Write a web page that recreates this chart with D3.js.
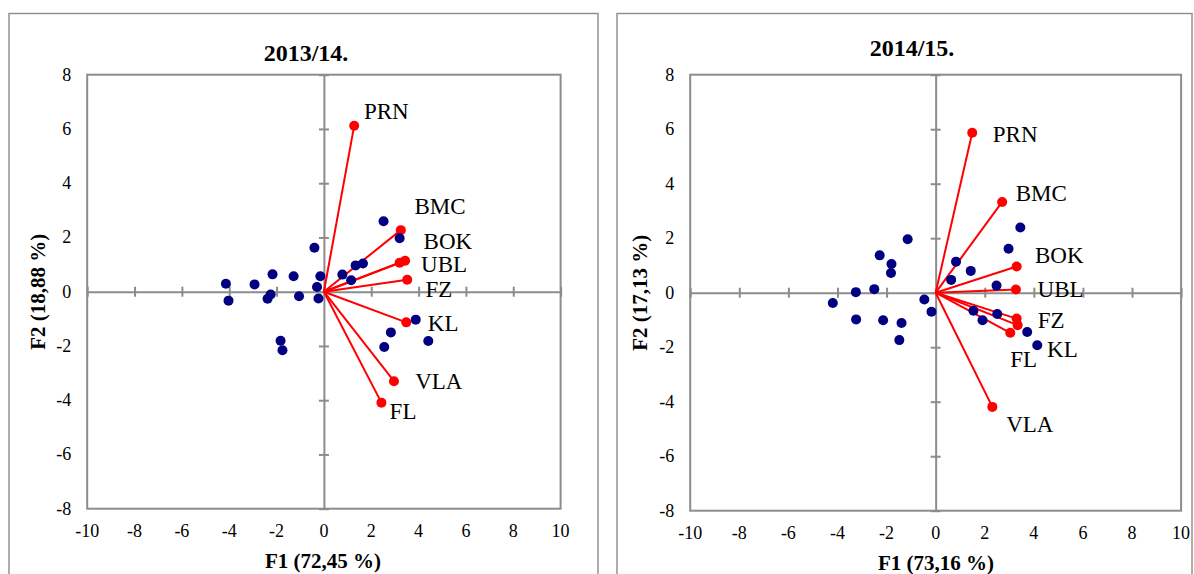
<!DOCTYPE html>
<html><head><meta charset="utf-8">
<script src="https://cdn.jsdelivr.net/npm/d3@7"></script>
<style>body{margin:0;background:#fff} svg{display:block}</style>
</head><body><svg id="c" width="1194" height="574"></svg>
<script>
// ---------- data ----------
const variables = ["PRN","BMC","BOK","UBL","FZ","KL","VLA","FL"];
const years = ["2013/14.","2014/15."];
const f1Titles = ["F1 (72,45 %)","F1 (73,16 %)"];
const f2Titles = ["F2 (18,88 %)","F2 (17,13 %)"];
const xTickValues = [-10,-8,-6,-4,-2,0,2,4,6,8,10];
const yTickValues = [-8,-6,-4,-2,0,2,4,6,8];

const varF1_2013 = [1.28,3.25,3.43,3.20,3.52,3.48,2.96,2.43];
const varF2_2013 = [6.12,2.27,1.14,1.07,0.44,-1.13,-3.30,-4.09];
const obsF1_2013 = [2.52,3.20,-0.40,1.34,1.65,0.78,1.15,-0.15,-0.29,-1.28,-2.17,-2.93,-4.14,-4.03,-2.38,-2.25,-1.05,-0.23,3.88,2.83,4.41,2.55,-1.83,-1.75];
const obsF2_2013 = [2.60,1.97,1.62,0.97,1.04,0.63,0.42,0.57,0.17,0.57,0.64,0.27,0.29,-0.33,-0.26,-0.10,-0.17,-0.25,-1.03,-1.50,-1.82,-2.04,-1.81,-2.16];

const varF1_2014 = [1.49,2.71,3.30,3.27,3.30,3.34,2.31,3.04];
const varF2_2014 = [5.87,3.33,0.96,0.12,-0.95,-1.19,-4.19,-1.47];
const obsF1_2014 = [3.45,2.97,-1.14,-2.28,-1.80,-1.82,0.83,1.43,0.63,2.48,-2.50,-3.25,-0.46,-4.19,-0.17,-3.24,-2.14,-1.39,-1.48,1.54,2.51,1.91,3.73,4.14];
const obsF2_2014 = [2.39,1.61,1.96,1.37,1.05,0.72,1.14,0.80,0.47,0.26,0.13,0.02,-0.25,-0.38,-0.70,-0.98,-1.01,-1.11,-1.74,-0.66,-0.78,-1.01,-1.44,-1.93];

// ---------- layout ----------
const FONT = "'Liberation Serif','Times New Roman',serif";
const GRAY = "#8c8c8c";
const panels = [
  { box:[9,13.5,598,620], plot:{x0:87.2,x1:560.6,y0:74.7,y1:508.7},
    title:[306,61], xTitle:[323,568], yTitle:[37.5,291.7],
    vF1:varF1_2013, vF2:varF2_2013, oF1:obsF1_2013, oF2:obsF2_2013,
    off:{PRN:[9.8,-6.4],BMC:[13.6,-16],BOK:[18.5,-11.5],UBL:[21.4,9.6],FZ:[18.3,16.9],KL:[21.5,8.4],VLA:[21.2,8.1],FL:[8.2,16.1]} },
  { box:[617,13.5,1192,620], plot:{x0:690.2,x1:1181.1,y0:74.7,y1:510.7},
    title:[912,56], xTitle:[936,570], yTitle:[640,292.7],
    vF1:varF1_2014, vF2:varF2_2014, oF1:obsF1_2014, oF2:obsF2_2014,
    off:{PRN:[20.6,9],BMC:[13.5,-1.3],BOK:[18.3,-3.8],UBL:[21.7,7.1],FZ:[21,9.7],KL:[29.4,32.2],VLA:[13.8,24.8],FL:[0,34.5]} }
];

const svg = d3.select("#c");

panels.forEach((p, i) => {
  const g = svg.append("g");
  const x = d3.scaleLinear().domain([-10,10]).range([p.plot.x0, p.plot.x1]);
  const y = d3.scaleLinear().domain([-8,8]).range([p.plot.y1, p.plot.y0]);

  // outer box
  g.append("rect").attr("x",p.box[0]).attr("y",p.box[1])
    .attr("width",p.box[2]-p.box[0]).attr("height",p.box[3]-p.box[1])
    .attr("fill","none").attr("stroke",GRAY).attr("stroke-width",1.4);

  // plot border
  g.append("rect").attr("x",x(-10)).attr("y",y(8))
    .attr("width",x(10)-x(-10)).attr("height",y(-8)-y(8))
    .attr("fill","none").attr("stroke",GRAY).attr("stroke-width",2);

  // zero axes with crossing ticks
  const xAxis = d3.axisBottom(x).tickValues(xTickValues).tickSizeInner(0).tickSizeOuter(0).tickFormat("");
  const yAxis = d3.axisLeft(y).tickValues(yTickValues).tickSizeInner(0).tickSizeOuter(0).tickFormat("");
  const gx = g.append("g").attr("transform",`translate(0,${y(0)})`).call(xAxis);
  const gy = g.append("g").attr("transform",`translate(${x(0)},0)`).call(yAxis);
  gx.select(".domain").attr("stroke",GRAY).attr("stroke-width",2);
  gy.select(".domain").attr("stroke",GRAY).attr("stroke-width",2);
  gx.selectAll(".tick line").attr("y1",-5).attr("y2",5).attr("stroke",GRAY).attr("stroke-width",2);
  gy.selectAll(".tick line").attr("x1",-5).attr("x2",5).attr("stroke",GRAY).attr("stroke-width",2);

  // tick labels (low position)
  g.selectAll(".xl").data(xTickValues).enter().append("text")
    .attr("x",d=>x(d)).attr("y",p.plot.y1+28).attr("text-anchor","middle")
    .attr("font-family",FONT).attr("font-size",18).attr("fill","#000").text(d=>String(d));
  g.selectAll(".yl").data(yTickValues).enter().append("text")
    .attr("x",p.plot.x0-16).attr("y",d=>y(d)+6).attr("text-anchor","end")
    .attr("font-family",FONT).attr("font-size",18).attr("fill","#000").text(d=>String(d));

  // titles
  g.append("text").attr("x",p.title[0]).attr("y",p.title[1]).attr("text-anchor","middle")
    .attr("font-family",FONT).attr("font-size",24).attr("font-weight","bold").text(years[i]);
  g.append("text").attr("x",p.xTitle[0]).attr("y",p.xTitle[1]).attr("text-anchor","middle")
    .attr("font-family",FONT).attr("font-size",21).attr("font-weight","bold").text(f1Titles[i]);
  g.append("text").attr("transform",`translate(${p.yTitle[0]+7},${p.yTitle[1]}) rotate(-90)`)
    .attr("text-anchor","middle")
    .attr("font-family",FONT).attr("font-size",21).attr("font-weight","bold").text(f2Titles[i]);

  // variable vectors
  const vars = variables.map((n,k)=>({name:n, f1:p.vF1[k], f2:p.vF2[k]}));
  g.selectAll(".vec").data(vars).enter().append("line")
    .attr("x1",x(0)).attr("y1",y(0)).attr("x2",d=>x(d.f1)).attr("y2",d=>y(d.f2))
    .attr("stroke","#ff0000").attr("stroke-width",2);
  g.selectAll(".vdot").data(vars).enter().append("circle")
    .attr("cx",d=>x(d.f1)).attr("cy",d=>y(d.f2)).attr("r",5).attr("fill","#ff0000");
  g.selectAll(".vlab").data(vars).enter().append("text")
    .attr("x",d=>x(d.f1)+p.off[d.name][0]).attr("y",d=>y(d.f2)+p.off[d.name][1])
    .attr("font-family",FONT).attr("font-size",23).attr("fill","#000").text(d=>d.name);

  // observations
  const obs = p.oF1.map((v,k)=>({f1:v, f2:p.oF2[k]}));
  g.selectAll(".odot").data(obs).enter().append("circle")
    .attr("cx",d=>x(d.f1)).attr("cy",d=>y(d.f2)).attr("r",5).attr("fill","#000080");
});
</script>
</body></html>
